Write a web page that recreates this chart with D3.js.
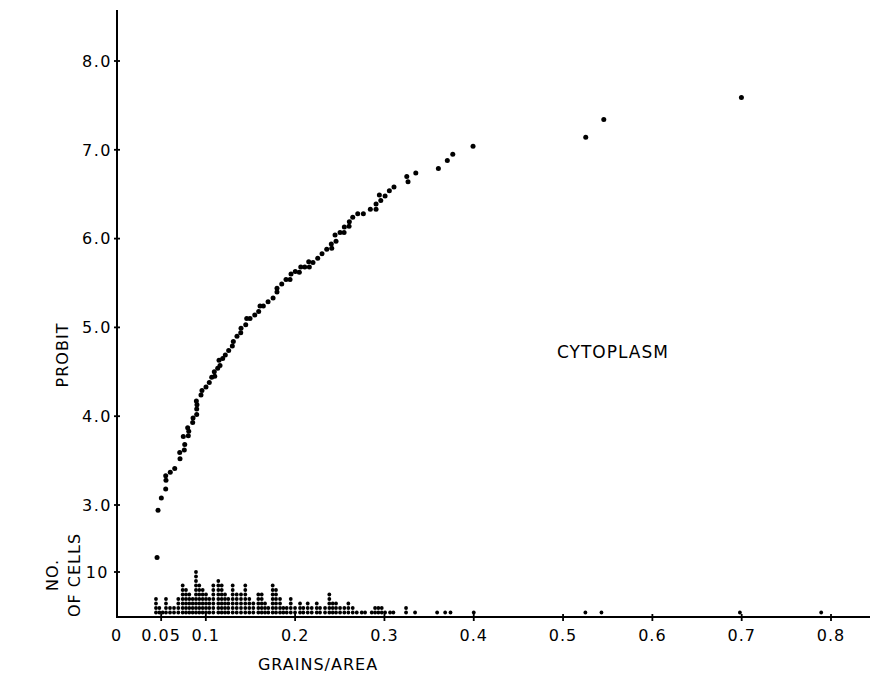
<!DOCTYPE html>
<html lang="en">
<head>
<meta charset="UTF-8">
<title>Cytoplasm probit</title>
<script src="https://d3js.org/d3.v7.min.js"></script>
<style>
  body { margin: 0; background: #fff; }
  text { font-family: "DejaVu Sans", sans-serif; fill: #000; }
</style>
</head>
<body>
<div id="chart"></div>
<script>
// probit points (grains/area, probit)
const probitX = [0.0454, 0.0465, 0.0502, 0.0551, 0.0554, 0.0551, 0.0602, 0.0652, 0.0711, 0.0708,
  0.0759, 0.0764, 0.0748, 0.0804, 0.0809, 0.0797, 0.0853, 0.0857, 0.0898, 0.0898,
  0.0901, 0.0894, 0.0946, 0.0957, 0.1002, 0.1039, 0.1066, 0.1100, 0.1095, 0.1133,
  0.1159, 0.1148, 0.1189, 0.1218, 0.1256, 0.1297, 0.1308, 0.1349, 0.1391, 0.1394,
  0.1447, 0.1458, 0.1495, 0.1548, 0.1592, 0.1607, 0.1644, 0.1697, 0.1753, 0.1797,
  0.1797, 0.1850, 0.1898, 0.1943, 0.1954, 0.2002, 0.2047, 0.2063, 0.2108, 0.2159,
  0.2152, 0.2200, 0.2253, 0.2301, 0.2354, 0.2410, 0.2405, 0.2458, 0.2447, 0.2503,
  0.2548, 0.2551, 0.2604, 0.2607, 0.2645, 0.2701, 0.2764, 0.2842, 0.2906, 0.2906,
  0.2959, 0.2943, 0.3007, 0.3055, 0.3107, 0.3250, 0.3264, 0.3351, 0.3604, 0.3704,
  0.3765, 0.3992, 0.5254, 0.5456, 0.6997];
const probitY = [2.41, 2.94, 3.08, 3.18, 3.28, 3.33, 3.37, 3.41, 3.52, 3.59,
  3.62, 3.68, 3.77, 3.78, 3.83, 3.87, 3.93, 3.98, 4.02, 4.08,
  4.13, 4.17, 4.24, 4.29, 4.33, 4.38, 4.44, 4.45, 4.50, 4.54,
  4.57, 4.63, 4.65, 4.69, 4.74, 4.79, 4.84, 4.90, 4.94, 4.99,
  5.03, 5.10, 5.10, 5.14, 5.18, 5.24, 5.24, 5.29, 5.33, 5.40,
  5.44, 5.49, 5.54, 5.54, 5.60, 5.63, 5.62, 5.68, 5.68, 5.68,
  5.74, 5.73, 5.78, 5.83, 5.88, 5.89, 5.94, 5.97, 6.04, 6.07,
  6.07, 6.13, 6.14, 6.19, 6.24, 6.28, 6.28, 6.33, 6.33, 6.39,
  6.43, 6.49, 6.48, 6.54, 6.58, 6.70, 6.64, 6.74, 6.79, 6.88,
  6.95, 7.04, 7.14, 7.34, 7.59];

// number of cells per grains/area column
const histX = [0.0442, 0.0480, 0.0517, 0.0554, 0.0599, 0.0644, 0.0692, 0.0741, 0.0778, 0.0815,
  0.0853, 0.0890, 0.0927, 0.0965, 0.1002, 0.1039, 0.1084, 0.1140, 0.1178, 0.1215,
  0.1252, 0.1301, 0.1346, 0.1394, 0.1442, 0.1487, 0.1532, 0.1588, 0.1626, 0.1663,
  0.1700, 0.1749, 0.1786, 0.1831, 0.1868, 0.1906, 0.1951, 0.1999, 0.2055, 0.2092,
  0.2141, 0.2186, 0.2242, 0.2279, 0.2335, 0.2383, 0.2421, 0.2458, 0.2503, 0.2551,
  0.2596, 0.2645, 0.2690, 0.2746, 0.2783, 0.2858, 0.2895, 0.2932, 0.2970, 0.3007,
  0.3063, 0.3100, 0.3242, 0.3343, 0.3590, 0.3680, 0.3740, 0.4000, 0.5250, 0.5430,
  0.6980, 0.7890];
const histN = [4, 2, 1, 4, 2, 2, 4, 7, 6, 5,
  4, 10, 7, 6, 5, 4, 7, 8, 7, 5,
  4, 7, 5, 5, 7, 4, 3, 5, 5, 3,
  2, 7, 6, 4, 2, 2, 4, 2, 3, 2,
  3, 2, 3, 2, 2, 5, 3, 3, 2, 2,
  3, 2, 1, 1, 1, 1, 2, 2, 2, 1,
  1, 1, 2, 1, 1, 1, 1, 1, 1, 1,
  1, 1];

const xTicks = [0, 0.05, 0.1, 0.2, 0.3, 0.4, 0.5, 0.6, 0.7, 0.8];
const xTickLabels = ["0", "0.05", "0.1", "0.2", "0.3", "0.4", "0.5", "0.6", "0.7", "0.8"];
const probitTicks = [3, 4, 5, 6, 7, 8];
const probitTickLabels = ["3.0", "4.0", "5.0", "6.0", "7.0", "8.0"];
const countTicks = [10];
const countTickLabels = ["10"];

const W = 870, H = 677;
const x0 = 117, yBase = 617, yTop = 10;

const x = d3.scaleLinear().domain([0, 0.8]).range([116.5, 831]);
const yP = d3.scaleLinear().domain([3, 8]).range([505, 61]);
const yN = d3.scaleLinear().domain([0, 10]).range([yBase, 572]);

const svg = d3.select("#chart").append("svg")
  .attr("width", W).attr("height", H);

// axes lines
svg.append("line").attr("x1", x0).attr("x2", x0).attr("y1", yTop).attr("y2", yBase)
  .attr("stroke", "#000").attr("stroke-width", 2);
svg.append("line").attr("x1", x0 - 1).attr("x2", W).attr("y1", yBase).attr("y2", yBase)
  .attr("stroke", "#000").attr("stroke-width", 2);

// x ticks
const xt = svg.append("g");
xTicks.forEach((t, i) => {
  if (t > 0) {
    xt.append("line").attr("x1", x(t)).attr("x2", x(t)).attr("y1", yBase - 3).attr("y2", yBase + 4)
      .attr("stroke", "#000").attr("stroke-width", 1.8);
  }
  xt.append("text").attr("x", x(t)).attr("y", yBase + 24)
    .attr("text-anchor", "middle").style("font-size", "16px").style("letter-spacing", "1px")
    .text(xTickLabels[i]);
});

// y ticks (probit)
const yt = svg.append("g");
probitTicks.forEach((t, i) => {
  yt.append("line").attr("x1", x0 - 3).attr("x2", x0 + 3).attr("y1", yP(t)).attr("y2", yP(t))
    .attr("stroke", "#000").attr("stroke-width", 1.8);
  yt.append("text").attr("x", x0 - 5).attr("y", yP(t)).attr("dy", "0.36em")
    .attr("text-anchor", "end").style("font-size", "16px").style("letter-spacing", "1.5px")
    .text(probitTickLabels[i]);
});
countTicks.forEach((t, i) => {
  yt.append("line").attr("x1", x0 - 3).attr("x2", x0 + 3).attr("y1", yN(t)).attr("y2", yN(t))
    .attr("stroke", "#000").attr("stroke-width", 1.8);
  yt.append("text").attr("x", x0 - 8).attr("y", yN(t)).attr("dy", "0.36em")
    .attr("text-anchor", "end").style("font-size", "16px").style("letter-spacing", "1.5px")
    .text(countTickLabels[i]);
});

// probit dots
svg.append("g").selectAll("circle")
  .data(probitX.map((v, i) => [v, probitY[i]]))
  .join("circle")
    .attr("cx", d => x(d[0]))
    .attr("cy", d => yP(d[1]))
    .attr("r", 2.5)
    .attr("fill", "#000");

// histogram dots, one per cell
const cells = [];
histX.forEach((v, i) => {
  for (let k = 1; k <= histN[i]; k++) cells.push([v, k]);
});
svg.append("g").selectAll("circle")
  .data(cells)
  .join("circle")
    .attr("cx", d => x(d[0]))
    .attr("cy", d => yN(d[1]))
    .attr("r", 1.9)
    .attr("fill", "#000");

// labels
svg.append("text").attr("x", 318).attr("y", 670).attr("text-anchor", "middle")
  .style("font-size", "16px").style("letter-spacing", "1px").text("GRAINS/AREA");

svg.append("text").attr("transform", "translate(68,355) rotate(-90)")
  .attr("text-anchor", "middle").style("font-size", "16px").style("letter-spacing", "1px")
  .text("PROBIT");

svg.append("text").attr("transform", "translate(58,575) rotate(-90)")
  .attr("text-anchor", "middle").style("font-size", "16px").style("letter-spacing", "1px")
  .text("NO.");
svg.append("text").attr("transform", "translate(80,575) rotate(-90)")
  .attr("text-anchor", "middle").style("font-size", "16px").style("letter-spacing", "1px")
  .text("OF CELLS");

svg.append("text").attr("x", 613).attr("y", 358).attr("text-anchor", "middle")
  .style("font-size", "17px").style("letter-spacing", "1px").text("CYTOPLASM");
</script>
</body>
</html>
